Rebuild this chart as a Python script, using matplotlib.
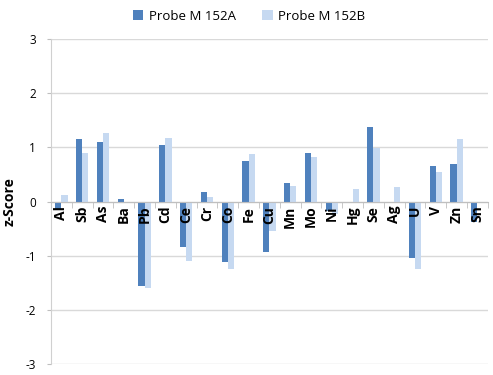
import matplotlib
matplotlib.use("Agg")
import matplotlib.pyplot as plt
import numpy as np

elements = ["Al", "Sb", "As", "Ba", "Pb", "Cd", "Ce", "Cr", "Co", "Fe", "Cu",
            "Mn", "Mo", "Ni", "Hg", "Se", "Ag", "U", "V", "Zn", "Sn"]
probe_a = [-0.14, 1.16, 1.09, 0.04, -1.55, 1.05, -0.83, 0.18, -1.11, 0.74, -0.93,
           0.35, 0.90, -0.18, 0.0, 1.38, 0.0, -1.05, 0.66, 0.69, -0.37]
probe_b = [0.12, 0.89, 1.26, 0.0, -1.60, 1.18, -1.09, 0.09, -1.24, 0.87, -0.54,
           0.28, 0.83, -0.23, 0.24, 0.99, 0.26, -1.25, 0.55, 1.16, 0.0]
series_names = ["Probe M 152A", "Probe M 152B"]
yticks = [-3, -2, -1, 0, 1, 2, 3]

plt.rcParams['font.family'] = ['Open Sans', 'DejaVu Sans']

fig = plt.figure(figsize=(4.93, 3.75), dpi=100)
ax = fig.add_axes([0.1034, 0.029, 0.886, 0.867])

x = np.arange(len(elements))
w = 0.3
ax.bar(x - w/2, probe_a, width=w, color="#4F81BD", label=series_names[0], zorder=3)
ax.bar(x + w/2, probe_b, width=w, color="#C6D9F1", label=series_names[1], zorder=3)

ax.set_ylim(-3, 3)
ax.set_xlim(-0.5, len(elements) - 0.5)
ax.set_yticks(yticks)
ax.set_yticklabels([str(v) for v in yticks], fontsize=8.5)
ax.yaxis.grid(True, color="#D9D9D9", linewidth=1)
ax.yaxis.set_zorder(0.5)
ax.tick_params(axis="y", length=3, color="#BFBFBF", pad=8)

# Kategorienachse bei y = 0, Beschriftung über den Balken
ax.spines["bottom"].set_position(("data", 0))
ax.spines["bottom"].set_color("#BFBFBF")
ax.spines["bottom"].set_zorder(4)
ax.spines["left"].set_color("#D0D0D0")
ax.spines["top"].set_visible(False)
ax.spines["right"].set_visible(False)

ax.set_xticks(x)
ax.set_xticklabels(elements, rotation=90, fontsize=10, fontweight="bold")
ax.tick_params(axis="x", which="major", length=0, pad=3)
ax.set_xticks(np.arange(-0.5, len(elements)), minor=True)
ax.tick_params(axis="x", which="minor", length=4, color="#BFBFBF")
ax.xaxis.set_zorder(5)

ax.set_ylabel("z-Score", fontsize=10, fontweight="bold", labelpad=6)

fig.legend(loc="upper center", bbox_to_anchor=(0.505, 1.005), ncol=2, frameon=False,
           fontsize=9.5, handlelength=0.8, handleheight=0.8, columnspacing=2.0,
           handletextpad=0.4)

fig.savefig("out.png", dpi=100)
